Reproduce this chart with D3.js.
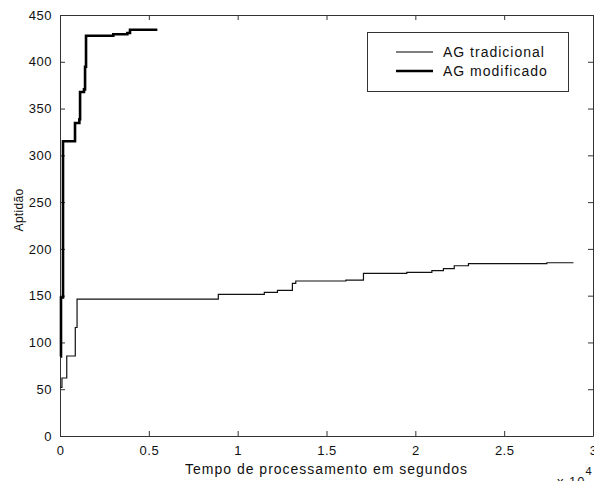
<!DOCTYPE html>
<html>
<head>
<meta charset="utf-8">
<script src="https://cdn.jsdelivr.net/npm/d3@7"></script>
<style>
  body { margin: 0; background: #fff; }
  svg { display: block; font-family: "Liberation Sans", Arial, sans-serif; }
  .axis path, .axis line { stroke: #333; }
  .axis text { font-size: 13px; fill: #111; letter-spacing: 0.5px; }
  .label { font-size: 14px; fill: #111; letter-spacing: 1px; }
</style>
</head>
<body>
<div id="chart"></div>
<script>
// tempo (s) / aptidao - AG tradicional
var tradTime = [30, 110, 380, 860, 960, 8910, 11500, 12240, 13080, 13270, 16090, 17080, 19520, 20930, 21580, 22190, 22990, 27400, 28900];
var tradFit = [52, 62, 85.5, 116, 146.3, 151.4, 153.6, 155.7, 163.2, 165.7, 166.7, 173.9, 175, 176.7, 178.8, 182, 184.2, 185.2, 185.2];

// AG modificado
var modTime = [50, 56, 170, 845, 1090, 1130, 1350, 1410, 1465, 3000, 3790, 3940, 5480];
var modFit = [85, 148, 315, 334.5, 338.5, 367.7, 370.5, 394.7, 427.9, 429.4, 430.8, 434.3, 434.3];

var xTicks = [0, 5000, 10000, 15000, 20000, 25000, 30000];
var yTicks = [0, 50, 100, 150, 200, 250, 300, 350, 400, 450];
var seriesNames = ['AG tradicional', 'AG modificado'];

var W = 594, H = 481;
var margin = { top: 15, right: 1, bottom: 45, left: 60 };

var svg = d3.select('#chart').append('svg')
  .attr('width', W)
  .attr('height', H);

var x = d3.scaleLinear().domain([0, 30000]).range([margin.left, W - margin.right]);
var y = d3.scaleLinear().domain([0, 450]).range([H - margin.bottom, margin.top]);

var fmtX = function(d) { return d === 0 ? '0' : d3.format('.1~f')(d / 10000); };

svg.append('g')
  .attr('class', 'axis')
  .attr('transform', 'translate(0,' + y(0) + ')')
  .call(d3.axisBottom(x).tickValues(xTicks).tickFormat(fmtX)
    .tickSizeInner(-5).tickSizeOuter(0).tickPadding(10));

svg.append('g')
  .attr('class', 'axis')
  .attr('transform', 'translate(0,' + y(450) + ')')
  .call(d3.axisTop(x).tickValues(xTicks).tickFormat('')
    .tickSizeInner(-5).tickSizeOuter(0));

svg.append('g')
  .attr('class', 'axis')
  .attr('transform', 'translate(' + x(0) + ',0)')
  .call(d3.axisLeft(y).tickValues(yTicks)
    .tickSizeInner(-5).tickSizeOuter(0).tickPadding(8));

svg.append('g')
  .attr('class', 'axis')
  .attr('transform', 'translate(' + x(30000) + ',0)')
  .call(d3.axisRight(y).tickValues(yTicks).tickFormat('')
    .tickSizeInner(-5).tickSizeOuter(0));

var line = d3.line()
  .curve(d3.curveStepAfter)
  .x(function(d) { return x(d[0]); })
  .y(function(d) { return y(d[1]); });

var trad = d3.zip(tradTime, tradFit);
var mod = d3.zip(modTime, modFit);

svg.append('path')
  .datum(trad)
  .attr('fill', 'none')
  .attr('stroke', '#111')
  .attr('stroke-width', 1.2)
  .attr('d', line);

svg.append('path')
  .datum(mod)
  .attr('fill', 'none')
  .attr('stroke', '#000')
  .attr('stroke-width', 2.6)
  .attr('d', line);

// labels
svg.append('text')
  .attr('class', 'label')
  .attr('x', (x(0) + x(30000)) / 2)
  .attr('y', 474)
  .attr('text-anchor', 'middle')
  .text('Tempo de processamento em segundos');

svg.append('text')
  .attr('class', 'label')
  .style('font-size', '12px')
  .style('letter-spacing', '0.3px')
  .attr('transform', 'translate(23,210) rotate(-90)')
  .attr('text-anchor', 'middle')
  .text('Aptidão');

var exp = svg.append('text')
  .attr('class', 'label')
  .style('font-size', '13px')
  .attr('x', 557)
  .attr('y', 486);
exp.append('tspan').text('x 10');
exp.append('tspan').attr('dy', -11).style('font-size', '11px').text('4');

// legend
var lg = svg.append('g').attr('class', 'legend');
lg.append('rect')
  .attr('x', 367.5).attr('y', 32.5)
  .attr('width', 201).attr('height', 59)
  .attr('fill', '#fff')
  .attr('stroke', '#333');

var widths = [1.2, 2.6];
seriesNames.forEach(function(name, i) {
  var ly = 52 + i * 19;
  lg.append('line')
    .attr('x1', 396).attr('x2', 433)
    .attr('y1', ly).attr('y2', ly)
    .attr('stroke', '#000')
    .attr('stroke-width', widths[i]);
  lg.append('text')
    .attr('class', 'label')
    .attr('x', 443)
    .attr('y', ly + 5)
    .text(name);
});
</script>
</body>
</html>
